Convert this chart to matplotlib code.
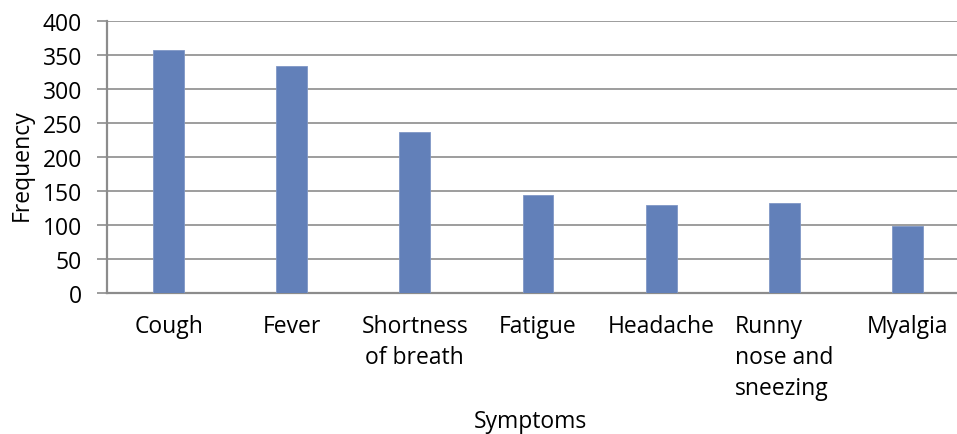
import matplotlib.pyplot as plt

symptoms = ['Cough', 'Fever', 'Shortness\nof breath', 'Fatigue', 'Headache',
            'Runny\nnose and\nsneezing', 'Myalgia']
frequency = [357, 333, 237, 143, 129, 132, 98]
y_ticks = [0, 50, 100, 150, 200, 250, 300, 350, 400]

plt.rcParams['font.family'] = ['Open Sans', 'DejaVu Sans']
bar_color = '#6280b9'
grid_color = '#8c8c8c'
fs = 16.5

W, H = 957, 435
fig = plt.figure(figsize=(W / 100, H / 100), dpi=100)
ax = fig.add_axes([107 / W, 1 - 293.7 / H, 862 / W, 272 / H])

x = range(len(symptoms))
ax.bar(x, frequency, width=0.25, color=bar_color, edgecolor='#7f97c6',
       linewidth=0.6, zorder=3)

ax.set_xlim(-0.5, len(symptoms) - 0.5)
ax.set_ylim(0, 400)
ax.set_yticks(y_ticks)
ax.yaxis.grid(True, color=grid_color, linewidth=1.2, zorder=0)
ax.set_axisbelow(True)

for side in ['top', 'right']:
    ax.spines[side].set_visible(False)
for side in ['left', 'bottom']:
    ax.spines[side].set_color(grid_color)
    ax.spines[side].set_linewidth(1.6)

ax.tick_params(axis='y', length=7, width=1.2, color=grid_color,
               labelsize=fs, pad=11)
ax.tick_params(axis='x', length=0, labelsize=fs, pad=15)
ax.set_xticks(list(x))
ax.set_xticklabels(symptoms, linespacing=1.4)
for lbl in ax.get_xticklabels():
    if lbl.get_text().startswith('Runny'):
        lbl.set_multialignment('left')

fig.text(530 / W, 1 - 422 / H, 'Symptoms', fontsize=fs,
         ha='center', va='center')
fig.text(22 / W, 1 - 165 / H, 'Frequency', fontsize=fs,
         ha='center', va='center', rotation=90)

fig.savefig('out.png', dpi=100)
